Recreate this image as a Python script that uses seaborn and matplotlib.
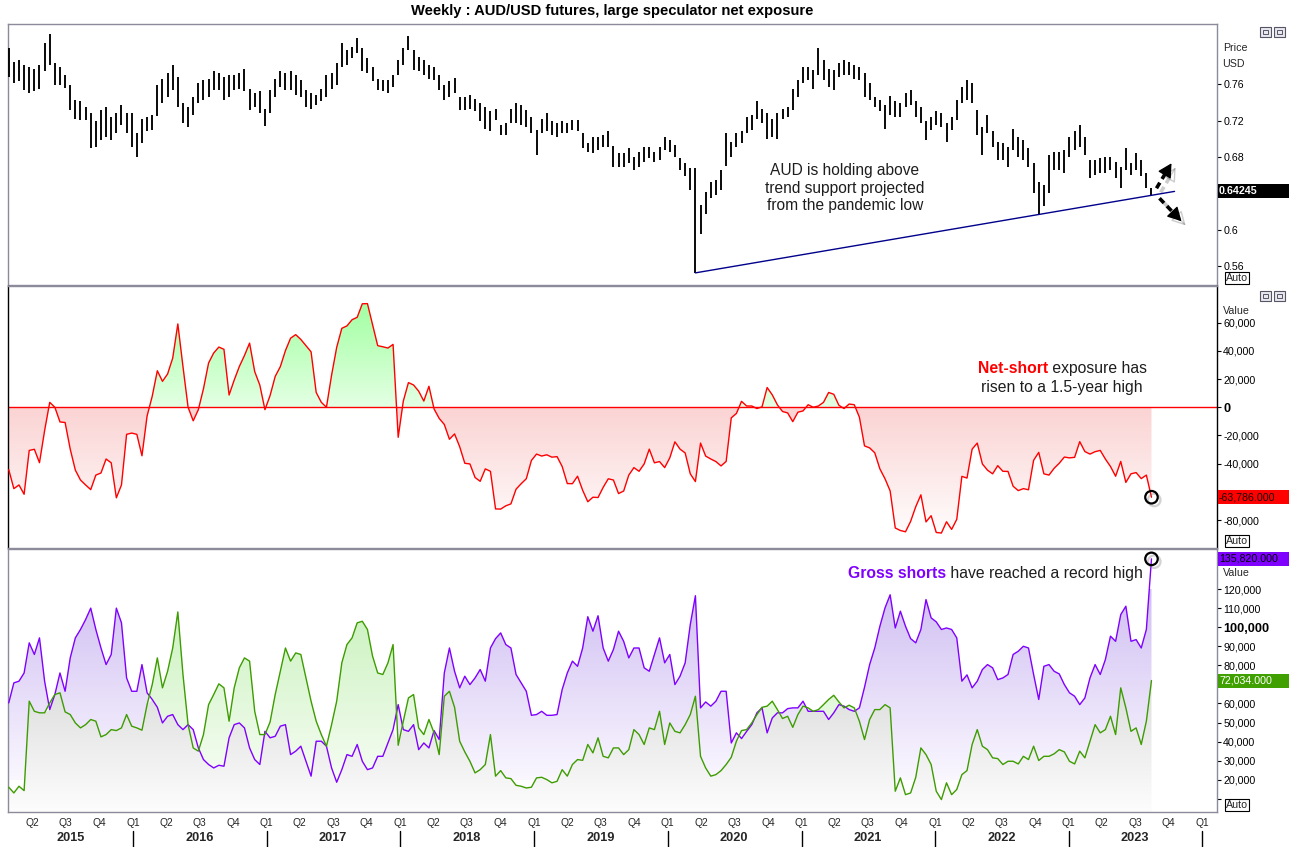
import numpy as np
import pandas as pd
import matplotlib
matplotlib.use("Agg")
import matplotlib.pyplot as plt
import matplotlib.dates as mdates
import matplotlib.transforms as mtrans
import matplotlib.patheffects as pe
from matplotlib.patches import Rectangle, PathPatch
from matplotlib.path import Path
from matplotlib.lines import Line2D
from matplotlib.colors import LinearSegmentedColormap
import seaborn as sns

sns.set_theme(style="white")
plt.rcParams["font.family"] = ["Liberation Sans", "DejaVu Sans"]

# ---------------- data ----------------
first_week = "2015-01-27"
step_days = 14

price_high = [
    0.799, 0.784, 0.786, 0.781, 0.779, 0.777, 0.781, 0.805, 0.815, 0.783,
    0.779, 0.770, 0.759, 0.742, 0.741, 0.735, 0.728, 0.719, 0.731, 0.735,
    0.724, 0.728, 0.737, 0.728, 0.728, 0.706, 0.722, 0.724, 0.726, 0.759,
    0.766, 0.772, 0.781, 0.768, 0.739, 0.735, 0.746, 0.761, 0.764, 0.766,
    0.774, 0.772, 0.768, 0.770, 0.770, 0.772, 0.777, 0.755, 0.750, 0.752,
    0.733, 0.753, 0.766, 0.774, 0.772, 0.774, 0.770, 0.764, 0.753, 0.750,
    0.748, 0.755, 0.770, 0.772, 0.783, 0.805, 0.797, 0.801, 0.810, 0.799,
    0.788, 0.779, 0.766, 0.764, 0.764, 0.770, 0.786, 0.799, 0.813, 0.797,
    0.790, 0.786, 0.781, 0.779, 0.770, 0.759, 0.763, 0.767, 0.746, 0.746,
    0.748, 0.744, 0.739, 0.735, 0.730, 0.733, 0.715, 0.717, 0.733, 0.739,
    0.737,
    0.732, 0.724, 0.710, 0.722, 0.728, 0.719, 0.717, 0.719, 0.717, 0.721,
    0.721, 0.706, 0.695, 0.702, 0.702, 0.704, 0.708, 0.692, 0.684, 0.684,
    0.690, 0.680, 0.686, 0.691, 0.691, 0.686, 0.691, 0.702, 0.699, 0.693,
    0.679, 0.673, 0.668, 0.668, 0.627, 0.642, 0.653, 0.655, 0.666, 0.706,
    0.697, 0.706, 0.708, 0.724, 0.726, 0.741, 0.733, 0.728, 0.722, 0.728,
    0.733, 0.735, 0.755, 0.764, 0.779, 0.779, 0.775, 0.800, 0.786, 0.777,
    0.775, 0.783, 0.786, 0.784, 0.781, 0.779, 0.772, 0.761, 0.746, 0.742,
    0.737, 0.747, 0.741, 0.739, 0.750, 0.754, 0.741, 0.735, 0.719, 0.724,
    0.730, 0.728, 0.717, 0.724, 0.742, 0.757, 0.764, 0.761, 0.732, 0.713,
    0.726, 0.708, 0.697, 0.695, 0.691, 0.711, 0.702, 0.699, 0.690, 0.673,
    0.653, 0.649, 0.682, 0.686, 0.686, 0.688, 0.702, 0.708, 0.715, 0.702,
    0.677, 0.677, 0.679, 0.680, 0.680, 0.675, 0.669, 0.690, 0.673, 0.684,
    0.677, 0.662, 0.646,
]
price_low = [
    0.768, 0.761, 0.763, 0.753, 0.750, 0.752, 0.755, 0.774, 0.781, 0.759,
    0.759, 0.756, 0.732, 0.722, 0.721, 0.721, 0.690, 0.691, 0.699, 0.702,
    0.699, 0.706, 0.715, 0.706, 0.691, 0.680, 0.695, 0.708, 0.710, 0.725,
    0.739, 0.746, 0.753, 0.735, 0.717, 0.713, 0.726, 0.739, 0.742, 0.746,
    0.753, 0.753, 0.742, 0.746, 0.753, 0.755, 0.752, 0.732, 0.735, 0.728,
    0.714, 0.728, 0.746, 0.757, 0.753, 0.753, 0.748, 0.746, 0.735, 0.733,
    0.737, 0.741, 0.746, 0.755, 0.759, 0.779, 0.781, 0.788, 0.794, 0.774,
    0.772, 0.763, 0.753, 0.752, 0.750, 0.757, 0.770, 0.781, 0.797, 0.775,
    0.774, 0.770, 0.766, 0.764, 0.753, 0.742, 0.746, 0.750, 0.732, 0.732,
    0.733, 0.730, 0.719, 0.711, 0.708, 0.721, 0.704, 0.704, 0.717, 0.717,
    0.715,
    0.713, 0.706, 0.682, 0.706, 0.708, 0.704, 0.702, 0.706, 0.706, 0.710,
    0.708, 0.690, 0.686, 0.684, 0.688, 0.691, 0.691, 0.669, 0.669, 0.669,
    0.673, 0.666, 0.669, 0.675, 0.679, 0.675, 0.677, 0.688, 0.686, 0.680,
    0.666, 0.659, 0.644, 0.553, 0.596, 0.618, 0.635, 0.638, 0.644, 0.670,
    0.680, 0.691, 0.695, 0.706, 0.710, 0.722, 0.717, 0.700, 0.702, 0.700,
    0.722, 0.724, 0.732, 0.746, 0.761, 0.764, 0.755, 0.770, 0.764, 0.757,
    0.753, 0.768, 0.770, 0.770, 0.766, 0.764, 0.746, 0.742, 0.735, 0.730,
    0.711, 0.726, 0.724, 0.724, 0.735, 0.737, 0.724, 0.717, 0.699, 0.710,
    0.715, 0.713, 0.697, 0.710, 0.721, 0.739, 0.742, 0.739, 0.704, 0.682,
    0.706, 0.691, 0.677, 0.677, 0.669, 0.688, 0.680, 0.677, 0.669, 0.640,
    0.617, 0.626, 0.640, 0.666, 0.666, 0.662, 0.680, 0.688, 0.691, 0.682,
    0.657, 0.660, 0.662, 0.662, 0.666, 0.657, 0.646, 0.666, 0.660, 0.666,
    0.659, 0.646, 0.638,
]
price_last = 0.64245

# large speculator gross positions, thousands of contracts
gross_shorts = [
    60.3, 70.8, 71.7, 76.0, 91.8, 85.7, 94.4, 71.7, 56.8, 64.7,
    76.0, 66.4, 83.9, 94.4, 98.8, 104.0, 110.0, 98.8, 89.1, 80.4,
    85.7, 110.0, 102.3, 73.4, 66.4, 66.4, 80.4, 65.6, 62.1, 58.0,
    49.8, 53.3, 54.2, 48.9, 46.3, 48.9, 46.3, 36.7, 30.6, 28.0,
    26.2, 27.6, 27.1, 42.0, 48.9, 49.8, 47.2, 36.7, 30.6, 28.0,
    45.4, 42.0, 42.8, 48.1, 48.9, 33.2, 35.0, 37.6, 29.7, 21.9,
    40.2, 40.2, 37.6, 26.2, 18.7, 25.3, 33.2, 32.3, 38.5, 29.7,
    25.3, 26.2, 32.3, 32.3, 39.3, 46.3, 59.4, 46.3, 45.4, 48.9,
    35.8, 39.3, 36.7, 45.8, 41.1, 76.0, 89.1, 76.9, 68.2, 74.3,
    69.9, 73.4, 77.8, 71.7, 89.1, 94.0, 97.0, 90.9, 89.1, 75.2,
    70.8,
    66.4, 53.8, 54.2, 55.9, 53.8, 53.8, 54.2, 67.3, 76.0, 82.2,
    79.5, 89.1, 105.5, 97.9, 106.0, 89.1, 82.2, 88.3, 97.9, 92.6,
    83.9, 89.1, 89.1, 78.7, 76.9, 85.7, 94.4, 81.3, 85.7, 69.9,
    74.3, 81.3, 101.4, 116.5, 57.7, 60.8, 58.6, 61.2, 66.4, 66.4,
    39.3, 44.6, 41.6, 45.4, 48.9, 55.1, 57.7, 44.6, 52.4, 55.1,
    55.1, 57.3, 57.7, 57.7, 61.2, 55.9, 55.9, 55.9, 55.9, 51.6,
    55.1, 59.4, 58.6, 56.8, 55.9, 57.7, 68.5, 80.4, 89.1, 100.5,
    110.1, 117.0, 99.6, 108.4, 100.5, 94.0, 91.8, 98.8, 114.5, 104.9,
    102.8, 98.8, 99.6, 98.8, 94.4, 71.7, 75.0, 68.2, 71.7, 77.8,
    80.4, 78.7, 72.5, 73.4, 75.2, 85.7, 87.4, 90.0, 89.1, 75.2,
    62.1, 79.5, 80.4, 76.9, 75.5, 69.9, 65.6, 63.8, 59.4, 62.9,
    73.4, 80.4, 75.2, 83.0, 95.3, 92.6, 106.6, 111.0, 92.6, 93.5,
    89.1, 98.8, 135.820,
]
gross_longs = [
    16.1, 13.1, 16.6, 14.3, 61.2, 55.9, 55.1, 55.1, 60.3, 64.7,
    65.6, 55.6, 54.2, 49.8, 47.2, 48.9, 51.6, 50.7, 42.5, 43.7,
    46.3, 45.8, 47.2, 54.2, 48.1, 47.2, 46.0, 59.4, 69.9, 83.9,
    68.2, 76.9, 89.1, 108.0, 75.2, 48.9, 36.7, 35.0, 43.7, 59.4,
    64.7, 70.3, 68.2, 50.7, 68.2, 78.7, 83.9, 82.2, 55.9, 43.7,
    43.7, 50.3, 64.7, 76.9, 89.1, 82.2, 86.5, 85.7, 73.4, 61.2,
    50.7, 43.7, 37.6, 48.9, 61.2, 81.3, 90.9, 94.4, 102.3, 103.1,
    98.8, 84.8, 76.0, 75.2, 81.3, 90.9, 38.1, 50.7, 62.9, 64.7,
    47.2, 43.7, 51.6, 44.6, 33.2, 63.8, 66.4, 58.0, 40.2, 34.6,
    29.7, 23.6, 25.3, 28.0, 43.7, 21.9, 24.8, 21.0, 20.6, 17.1,
    16.6,
    15.7, 16.1, 21.0, 21.3, 20.1, 18.4, 19.2, 25.3, 21.9, 28.0,
    30.6, 30.2, 38.5, 34.1, 42.0, 32.3, 31.5, 36.7, 36.7, 33.2,
    35.8, 46.3, 43.7, 38.5, 47.2, 46.3, 55.9, 38.5, 49.8, 45.4,
    44.6, 48.9, 54.2, 63.8, 32.3, 26.2, 21.9, 22.7, 24.8, 28.0,
    31.8, 40.2, 45.8, 46.3, 49.8, 54.2, 58.0, 58.6, 61.2, 56.8,
    52.1, 53.3, 47.5, 54.2, 58.6, 57.7, 55.9, 56.8, 59.4, 62.1,
    64.3, 60.8, 57.7, 59.1, 57.7, 50.7, 41.1, 51.6, 56.8, 56.8,
    59.4, 57.7, 14.0, 21.0, 12.2, 13.1, 21.3, 36.7, 33.2, 28.0,
    14.0, 9.6, 18.4, 12.2, 14.9, 22.7, 24.8, 38.5, 46.3, 37.6,
    35.8, 31.5, 31.1, 28.0, 29.7, 29.7, 28.3, 32.3, 30.6, 37.6,
    30.1, 32.3, 32.3, 33.6, 35.8, 34.6, 29.7, 28.3, 35.0, 31.5,
    40.2, 48.9, 44.6, 46.3, 53.3, 43.7, 68.2, 57.7, 45.4, 47.2,
    38.5, 50.7, 72.034,
]

title = "Weekly : AUD/USD futures, large speculator net exposure"
price_ticks = [0.56, 0.6, 0.64, 0.68, 0.72, 0.76]
net_ticks = [-80, -60, -40, -20, 0, 20, 40, 60]
gross_ticks = [10, 20, 30, 40, 50, 60, 70, 80, 90, 100, 110, 120]

# ---------------- frame ----------------
dates = pd.date_range(first_week, periods=len(price_high), freq=f"{step_days}D")
df = pd.DataFrame({"t": mdates.date2num(dates), "high": price_high, "low": price_low,
                   "shorts": gross_shorts, "longs": gross_longs})
df["net"] = df["longs"] - df["shorts"]
t = df["t"].to_numpy()
net = df["net"].to_numpy()
longs = df["longs"].to_numpy()
shorts = df["shorts"].to_numpy()

W, H = 1289.0, 847.0
fig = plt.figure(figsize=(W / 100, H / 100), dpi=100)
fig.patch.set_facecolor("white")


def rect(x0, y0, x1, y1):
    return [x0 / W, 1 - y1 / H, (x1 - x0) / W, (y1 - y0) / H]


ax1 = fig.add_axes(rect(8, 24, 1217, 285))
ax2 = fig.add_axes(rect(8, 286, 1217, 548))
ax3 = fig.add_axes(rect(8, 549, 1217, 812))

xlo = mdates.date2num(pd.Timestamp("2015-01-25"))
xhi = mdates.date2num(pd.Timestamp("2024-02-10"))
GRAY = "#8b8b9b"
for ax in (ax1, ax2, ax3):
    ax.set_facecolor("white")
    ax.set_xlim(xlo, xhi)
    ax.set_xticks([])
    ax.grid(False)
    ax.yaxis.tick_right()
    ax.tick_params(axis="y", direction="out", length=3, width=0.8, colors="black",
                   labelsize=7.7, pad=1.5, right=True, left=False)
    for s in ax.spines.values():
        s.set_color(GRAY)
        s.set_linewidth(1.0)
ax2.spines["left"].set_color("black")
ax2.spines["right"].set_color("black")

YL1 = (0.5397, 0.8258)
YL2 = (-99.8, 86.0)
YL3 = (3.1, 141.0)


def gradient_region(ax, x, ya, yb, where, c_hi, c_lo, v_hi, v_lo, z=1):
    coll = ax.fill_between(x, ya, yb, where=where, interpolate=True,
                           facecolor="none", edgecolor="none", linewidth=0)
    paths = [p for p in coll.get_paths() if len(p.vertices) > 2]
    coll.remove()
    if not paths:
        return
    clip = PathPatch(Path.make_compound_path(*paths), transform=ax.transData,
                     facecolor="none", edgecolor="none")
    ax.add_patch(clip)
    cmap = LinearSegmentedColormap.from_list("g", [c_lo, c_hi])
    img = ax.imshow(np.linspace(0, 1, 256).reshape(-1, 1), cmap=cmap, aspect="auto",
                    origin="lower", extent=[x[0], x[-1], v_lo, v_hi], zorder=z,
                    interpolation="bilinear")
    img.set_clip_path(clip)


# ---------------- panel 1: price ----------------
ax1.vlines(t, df["low"], df["high"], color="black", lw=1.35, zorder=3)
i0 = int(np.argmin(price_low))
i1 = i0 + 26 + int(np.argmin(price_low[i0 + 26:]))
slope = (price_low[i1] - price_low[i0]) / (t[i1] - t[i0])
t_end = t[-1] + 63
ax1.plot([t[i0], t_end], [price_low[i0], price_low[i0] + slope * (t_end - t[i0])],
         color="#00008b", lw=1.0, zorder=4)
ax1.set_yticks(price_ticks)
ax1.set_yticklabels(["" if v == 0.64 else f"{v:g}" for v in price_ticks])

# ---------------- panel 2: net ----------------
gradient_region(ax2, t, 0, net, net >= 0, "#9cff9c", "#e4ffe4", 80, 0)
gradient_region(ax2, t, net, 0, net <= 0, "#fbd3d3", "#ffffff", 0, -95)
ax2.axhline(0, color="#ff0000", lw=1.0, zorder=2)
sns.lineplot(x=t, y=net, ax=ax2, color="#ff0000", lw=1.0, estimator=None, zorder=4)
ax2.set_yticks(net_ticks)
ax2.set_yticklabels(["" if v == -60 else f"{int(v * 1000):,}" for v in net_ticks])
for lab in ax2.get_yticklabels():
    if lab.get_text() == "0":
        lab.set_fontweight("bold")
        lab.set_fontsize(9.2)

# ---------------- panel 3: gross longs / shorts ----------------
lower = np.minimum(longs, shorts)
gradient_region(ax3, t, YL3[0], lower, np.ones_like(t, dtype=bool), "#dcdedc", "#fdfdfd", 70, 3)
gradient_region(ax3, t, longs, shorts, shorts >= longs, "#d0bff2", "#faf7ff", 120, 20)
gradient_region(ax3, t, shorts, longs, longs >= shorts, "#cbf2bf", "#f6fdf3", 110, 20)
sns.lineplot(x=t, y=shorts, ax=ax3, color="#8000ff", lw=1.0, estimator=None, zorder=4)
sns.lineplot(x=t, y=longs, ax=ax3, color="#3d9c00", lw=1.0, estimator=None, zorder=5)
ax3.set_yticks(gross_ticks)
ax3.set_yticklabels(["" if v in (10, 70) else f"{int(v * 1000):,}" for v in gross_ticks])
for lab in ax3.get_yticklabels():
    if lab.get_text() == "100,000":
        lab.set_fontweight("bold")
        lab.set_fontsize(9.2)

for ax, yl in ((ax1, YL1), (ax2, YL2), (ax3, YL3)):
    ax.set_xlim(xlo, xhi)
    ax.set_ylim(*yl)
    ax.set_xlabel("")
    ax.set_ylabel("")

# ---------------- x axis: quarters & years ----------------
bt = mtrans.blended_transform_factory(ax3.transData, fig.transFigure)
for d in pd.date_range("2015-04-01", "2024-01-01", freq="QS"):
    ax3.text(mdates.date2num(d), 1 - 823 / H, f"Q{d.quarter}", transform=bt,
             ha="center", va="center", fontsize=7.4, clip_on=False)
for yr in range(2015, 2024):
    if yr == 2015:
        xc = 0.5 * (xlo + mdates.date2num(pd.Timestamp("2016-01-01")))
    else:
        xc = mdates.date2num(pd.Timestamp(f"{yr}-07-01"))
    ax3.text(xc, 1 - 838 / H, str(yr), transform=bt, ha="center", va="center",
             fontsize=9.2, fontweight="bold", clip_on=False)
for yr in range(2016, 2025):
    xs = mdates.date2num(pd.Timestamp(f"{yr}-01-01"))
    ax3.add_line(Line2D([xs, xs], [1 - 831 / H, 1 - 847 / H], transform=bt,
                        color="black", lw=1.0, clip_on=False))

# ---------------- title & axis captions ----------------
fig.text(612 / W, 1 - 11 / H, title, ha="center", va="center", fontsize=10.6,
         fontweight="bold", color="black")
fig.text(1223 / W, 1 - 48 / H, "Price", fontsize=7.7, va="center")
fig.text(1222 / W, 1 - 64 / H, "USD", fontsize=7.7, va="center")
fig.text(1223 / W, 1 - 311 / H, "Value", fontsize=7.7, va="center")
fig.text(1223 / W, 1 - 573 / H, "Value", fontsize=7.7, va="center")
for yb in (278, 541, 805):
    fig.text(1226 / W, 1 - yb / H, "Auto", fontsize=7.7, va="center",
             bbox=dict(boxstyle="square,pad=0.12", fc="white", ec="black", lw=0.8))
for yi in (32, 296):
    for xi in (1260, 1274):
        fig.add_artist(Rectangle((xi / W, 1 - (yi + 5) / H), 11 / W, 10 / H,
                                 transform=fig.transFigure, fc="#e8e8ee", ec="#555566", lw=0.8))
        fig.add_artist(Rectangle(((xi + 3) / W, 1 - (yi + 2) / H), 5 / W, 4 / H,
                                 transform=fig.transFigure, fc="none", ec="#555566", lw=0.7))


# ---------------- last-value boxes ----------------
def value_box(ax, value, text, fc, tc, bold=False):
    ypix = ax.transData.transform((xlo, value))[1]
    h = 14
    fig.add_artist(Rectangle((1217.5 / W, (ypix - h / 2) / H), (W - 1217.5) / W, h / H,
                             transform=fig.transFigure, fc=fc, ec="none", zorder=5))
    fig.text(1219 / W, ypix / H, text, color=tc, fontsize=7.7,
             fontweight="bold" if bold else "normal", va="center", ha="left", zorder=6)
    return ypix


value_box(ax1, price_last, f"{price_last:.5f}", "black", "white", bold=True)
value_box(ax2, net[-1], f"{net[-1] * 1000:,.3f}", "#ff0000", "#1a0000")
value_box(ax3, shorts[-1], f"{shorts[-1] * 1000:,.3f}", "#8000ff", "black")
value_box(ax3, longs[-1], f"{longs[-1] * 1000:,.3f}", "#3fa000", "white")

# ---------------- annotations ----------------
circ_fx = [pe.SimpleLineShadow(offset=(2, -2), shadow_color="gray", alpha=0.35), pe.Normal()]
ax2.plot([t[-1]], [net[-1]], "o", ms=9, mfc="none", mec="black", mew=1.6, zorder=7,
         clip_on=False, path_effects=circ_fx)
ax3.plot([t[-1]], [shorts[-1]], "o", ms=9, mfc="none", mec="black", mew=1.6, zorder=7,
         clip_on=False, path_effects=circ_fx)

ax1.text(845 / W, 1 - 188 / H,
         "AUD is holding above\ntrend support projected\nfrom the pandemic low",
         transform=fig.transFigure, ha="center", va="center", fontsize=11.2,
         color="#1e1e1e", linespacing=1.2)

# dashed direction arrows next to the latest bar (shaft dashed, head solid)
px, py = ax1.transData.transform((t[-1], price_last))
shadow = [pe.SimpleLineShadow(offset=(3, -3), alpha=0.22), pe.Normal()]
for (sx, sy), (ex, ey) in (((px + 5, py + 3), (px + 20, py + 28)),
                           ((px + 8, py - 7), (px + 30, py - 30))):
    dx, dy = ex - sx, ey - sy
    L = np.hypot(dx, dy)
    ux, uy = dx / L, dy / L
    hx, hy = ex - ux * 8, ey - uy * 8
    ax1.annotate("", xy=(hx, hy), xytext=(sx, sy), xycoords="figure pixels",
                 textcoords="figure pixels",
                 arrowprops=dict(arrowstyle="-", lw=2.6, ls=(0, (1.8, 1.2)), color="black",
                                 shrinkA=0, shrinkB=0, capstyle="butt", path_effects=shadow))
    ax1.annotate("", xy=(ex, ey), xytext=(hx - ux * 1, hy - uy * 1), xycoords="figure pixels",
                 textcoords="figure pixels",
                 arrowprops=dict(arrowstyle="-|>,head_length=0.7,head_width=0.38", lw=1.0,
                                 color="black", shrinkA=0, shrinkB=0, path_effects=shadow))

fig.canvas.draw()
t1 = fig.text(978 / W, 1 - 373 / H, "Net-short", color="#ff0000", fontsize=11.3,
              fontweight="bold", va="baseline", ha="left")
fig.canvas.draw()
bb = t1.get_window_extent()
fig.text(bb.x1 / W, 1 - 373 / H, " exposure has", color="#1e1e1e", fontsize=11.3,
         va="baseline", ha="left")
fig.text(1062 / W, 1 - 392 / H, "risen to a 1.5-year high", color="#1e1e1e", fontsize=11.3,
         va="baseline", ha="center")

t2 = fig.text(848 / W, 1 - 578 / H, "Gross shorts", color="#8000ff", fontsize=11.3,
              fontweight="bold", va="baseline", ha="left")
fig.canvas.draw()
bb = t2.get_window_extent()
fig.text(bb.x1 / W, 1 - 578 / H, " have reached a record high", color="#1e1e1e",
         fontsize=11.3, va="baseline", ha="left")

fig.savefig("out.png", dpi=100, facecolor="white")
